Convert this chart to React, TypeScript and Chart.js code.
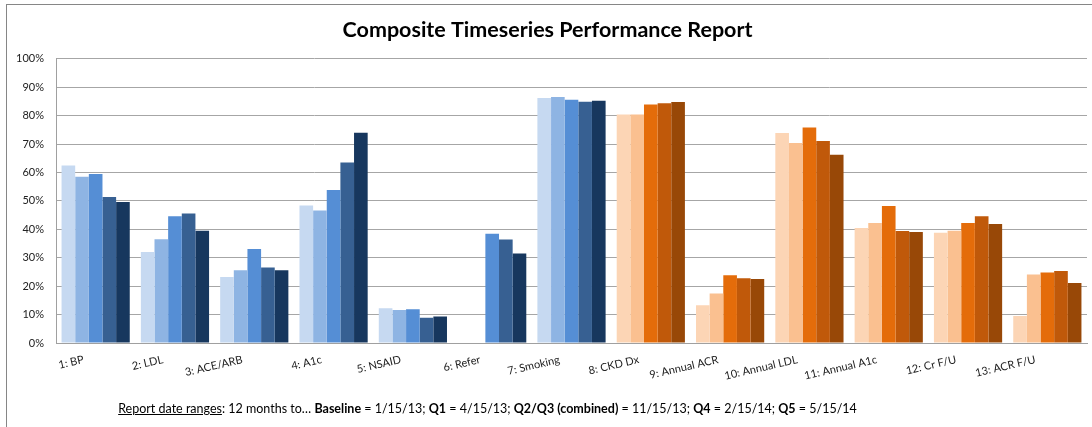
import React, { useEffect, useRef } from "react";
import { Chart, registerables } from "chart.js";

Chart.register(...registerables);

const categories = [
  "1: BP", "2: LDL", "3: ACE/ARB", "4: A1c", "5: NSAID", "6: Refer", "7: Smoking",
  "8: CKD Dx", "9: Annual ACR", "10: Annual LDL", "11: Annual A1c", "12: Cr F/U", "13: ACR F/U",
];

const seriesNames = ["Baseline", "Q1", "Q2/Q3", "Q4", "Q5"];

const baseline = [62.5, 32.0, 23.2, 48.4, 12.2, null, 86.2, 80.4, 13.3, 73.9, 40.5, 38.8, 9.5];
const q1 = [58.5, 36.5, 25.6, 46.6, 11.6, null, 86.6, 80.4, 17.4, 70.4, 42.2, 39.5, 24.1];
const q2q3 = [59.5, 44.6, 33.1, 53.8, 11.9, 38.4, 85.6, 83.9, 23.8, 75.8, 48.2, 42.2, 24.8];
const q4 = [51.4, 45.6, 26.6, 63.5, 8.9, 36.4, 84.9, 84.4, 22.8, 71.1, 39.4, 44.6, 25.3];
const q5 = [49.6, 39.5, 25.6, 74.0, 9.3, 31.5, 85.2, 84.8, 22.5, 66.2, 39.1, 41.9, 21.1];

const blueShades = ["#C6D9F1", "#8EB4E3", "#558ED5", "#376092", "#17375E"];
const orangeShades = ["#FCD5B5", "#FAC090", "#E46C0A", "#C0590A", "#984807"];
const blueCount = 7;

const yTicks = [0, 10, 20, 30, 40, 50, 60, 70, 80, 90, 100];

const FONT = "Lato, 'Liberation Sans', sans-serif";

export default function App() {
  const canvasRef = useRef<HTMLCanvasElement | null>(null);

  useEffect(() => {
    if (!canvasRef.current) return;
    const allSeries = [baseline, q1, q2q3, q4, q5];
    const chart = new Chart(canvasRef.current, {
      type: "bar",
      data: {
        labels: categories,
        datasets: allSeries.map((values, i) => ({
          label: seriesNames[i],
          data: values,
          backgroundColor: categories.map((_, c) => (c < blueCount ? blueShades[i] : orangeShades[i])),
          borderWidth: 0,
          categoryPercentage: 0.86,
          barPercentage: 1.0,
        })),
      },
      options: {
        animation: false,
        responsive: false,
        maintainAspectRatio: false,
        layout: { padding: { left: 8, right: 5, top: 0, bottom: 0 } },
        plugins: {
          legend: { display: false },
          tooltip: { enabled: false },
          title: {
            display: true,
            text: "Composite Timeseries Performance Report",
            color: "#000",
            font: { family: FONT, size: 21.5, weight: "bold", lineHeight: 1.2 },
            padding: { top: 17, bottom: 16 },
          },
        },
        scales: {
          x: {
            grid: { display: false },
            border: { display: true, color: "#A0A0A0", width: 1 },
            ticks: {
              color: "#222",
              font: { family: FONT, size: 11 },
              minRotation: 13,
              maxRotation: 13,
              autoSkip: false,
              padding: 2,
              labelOffset: -12,
            },
            afterFit: (scale: any) => {
              scale.height = 84;
            },
          },
          y: {
            min: 0,
            max: 100,
            afterBuildTicks: (scale: any) => {
              scale.ticks = yTicks.map((v) => ({ value: v }));
            },
            grid: { color: "#A6A6A6", lineWidth: 1, drawTicks: false },
            border: { display: true, color: "#A0A0A0", width: 1 },
            ticks: {
              color: "#222",
              font: { family: FONT, size: 11 },
              padding: 12,
              callback: (v: any) => `${v}%`,
            },
            afterFit: (scale: any) => {
              scale.width = 48;
            },
          },
        },
      },
    });
    return () => chart.destroy();
  }, []);

  return (
    <div
      style={{
        position: "absolute",
        left: 0,
        top: 0,
        width: 1092,
        height: 427,
        overflow: "hidden",
        background: "#fff",
      }}
    >
      <div
        style={{
          position: "absolute",
          left: 6,
          top: 4,
          width: 1100,
          height: 440,
          borderLeft: "1px solid #868686",
          borderTop: "1px solid #868686",
        }}
      />
      <canvas
        ref={canvasRef}
        width={1092}
        height={427}
        style={{ position: "absolute", left: 0, top: 0, width: 1092, height: 427 }}
      />
      <div
        style={{
          position: "absolute",
          left: 0,
          width: 975,
          top: 401,
          textAlign: "center",
          fontFamily: FONT,
          fontSize: 12.5,
          color: "#000",
          whiteSpace: "nowrap",
        }}
      >
        <span style={{ textDecoration: "underline" }}>Report date ranges</span>: 12 months to…{" "}
        <b>Baseline</b> = 1/15/13; <b>Q1</b> = 4/15/13; <b>Q2/Q3 (combined)</b> = 11/15/13;{" "}
        <b>Q4</b> = 2/15/14; <b>Q5</b> = 5/15/14
      </div>
    </div>
  );
}
